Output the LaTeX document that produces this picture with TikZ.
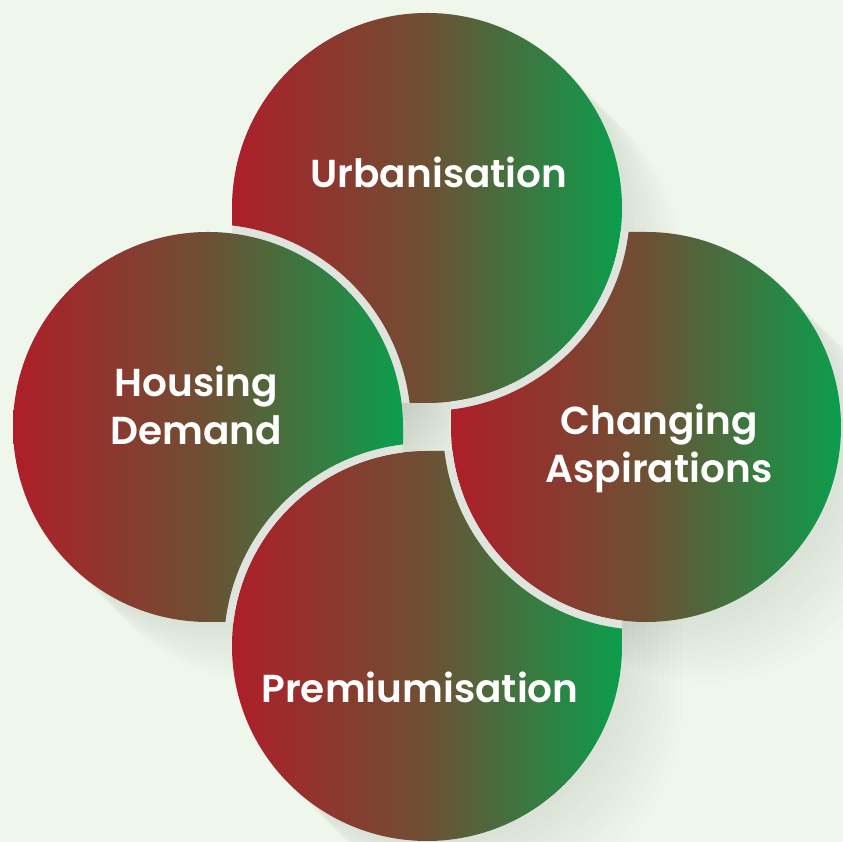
\documentclass[tikz,border=0pt]{standalone}
\usepackage{fontspec}
\newfontfamily\lblfont{Poppins SemiBold}
\usetikzlibrary{calc}
\definecolor{petalred}{HTML}{AE1E29}
\definecolor{petalbrown}{HTML}{6D5034}
\definecolor{petalgreen}{HTML}{0B9E4C}
\definecolor{gapgrey}{HTML}{DFE4DE}
\definecolor{bgtint}{HTML}{EFF6EC}

\newcommand{\rad}{195}
\newcommand{\gapw}{8}
% circle at (#1,#2) with the quadrant from angle #3 squared off
\newcommand{\petal}[3]{([shift={(#1,#2)}]#3:\rad) -- ++(#3+90:\rad) -- ++(#3+180:\rad)
  arc[start angle=#3+90, end angle=#3+360, radius=\rad] -- cycle}
% petal #1,#2,#3 with the bite of the circle at (#4,#5) lying on top of it
\newcommand{\bitten}[5]{%
  \begin{scope}[even odd rule]
    \clip (-5,-5) rectangle (850,850) (#4,#5) circle[radius=\rad];
    \fill[gapgrey] \petal{#1}{#2}{#3};
    \clip (-5,-5) rectangle (850,850) (#4,#5) circle[radius=\rad+\gapw];
    \shade[petal] \petal{#1}{#2}{#3};
  \end{scope}}

\tikzset{
  petal/.style={left color=petalred, right color=petalgreen, middle color=petalbrown},
  lbl/.style={text=white, anchor=base, align=center, inner sep=0pt,
    font=\lblfont\fontsize{39}{48}\selectfont},
}

\begin{document}
\begin{tikzpicture}[x=1pt, y=1pt]
  \fill[bgtint] (0,0) rectangle (843,842);
  \useasboundingbox (0,0) rectangle (843,842);

  % long soft shadows
  \foreach \k in {1,...,10} {
    \fill[black, opacity=0.008, shift={(\k*6,-\k*6)}] \petal{427}{634}{180};
    \fill[black, opacity=0.008, shift={(\k*6,-\k*6)}] \petal{208}{415}{270};
    \fill[black, opacity=0.008, shift={(\k*6,-\k*6)}] \petal{646}{415}{90};
    \fill[black, opacity=0.008, shift={(\k*6,-\k*6)}] \petal{427}{196}{0};
  }

  % the four petals, each bitten by its neighbour
  \bitten{427}{634}{180}{208}{415}  % urbanisation under housing
  \bitten{646}{415}{90}{427}{634}   % aspirations under urbanisation
  \bitten{427}{196}{0}{646}{415}    % premiumisation under aspirations
  \bitten{208}{415}{270}{427}{196}  % housing under premiumisation

  \node[lbl] (urb) at (439,654) {Urbanisation};
  \node[lbl] (hou) at (196,397) {Housing\\Demand};
  \node[lbl] (cha) at (659,359) {Changing\\Aspirations};
  \node[lbl] (pre) at (420,139) {Premiumisation};
\end{tikzpicture}
\end{document}
